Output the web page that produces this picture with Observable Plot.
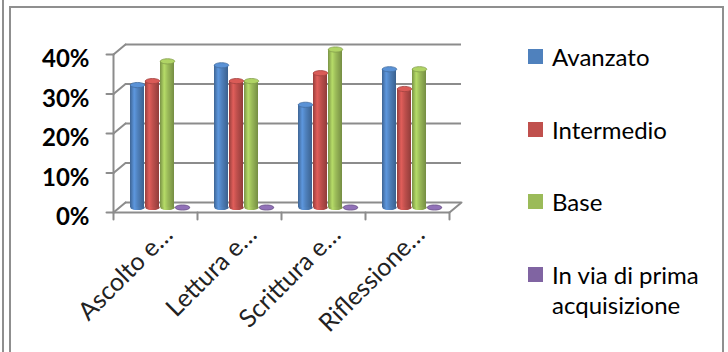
<!DOCTYPE html>
<html><head><meta charset="utf-8">
<script src="https://cdn.jsdelivr.net/npm/d3@7"></script>
<script src="https://cdn.jsdelivr.net/npm/@observablehq/plot@0.6"></script>
<style>
body{margin:0;background:#fff;}
#wrap{position:relative;width:728px;height:352px;overflow:hidden;background:#fff;font-family:Lato,sans-serif;color:#000;}
#chart{position:absolute;left:0;top:0;}
.bl{position:absolute;background:#8f8f8f;}
.sq{position:absolute;width:15px;height:15px;}
.lt{position:absolute;font-size:24px;line-height:30px;width:170px;white-space:normal;}
</style></head>
<body>
<div id="wrap">
  <svg width="0" height="0" style="position:absolute;left:0;top:0"><defs id="defs"></defs></svg>
  <div id="chart"></div>
  <div class="bl" style="left:2px;top:0;width:2px;height:352px"></div>
  <div class="bl" style="left:9px;top:6px;width:2px;height:346px"></div>
  <div class="bl" style="left:9px;top:6px;width:715px;height:2px"></div>
  <div class="bl" style="left:722px;top:6px;width:2px;height:346px"></div>
  <div id="legend"></div>
</div>
<script>
// ---- data ----
const categories = ["Ascolto e…", "Lettura e…", "Scrittura e…", "Riflessione…"];
const series = ["Avanzato", "Intermedio", "Base", "In via di prima acquisizione"];
const avanzato = [0.31, 0.36, 0.26, 0.35];
const intermedio = [0.32, 0.32, 0.34, 0.30];
const base = [0.37, 0.32, 0.40, 0.35];
const primaAcquisizione = [0, 0, 0, 0];
const yTicks = [0, 0.1, 0.2, 0.3, 0.4];
const colors = ["#4F81BD", "#C0504D", "#9BBB59", "#8064A2"];

const seriesValues = [avanzato, intermedio, base, primaAcquisizione];
const rows = [];
categories.forEach((c, i) => seriesValues.forEach((arr, j) => rows.push({category: c, series: series[j], idx: j, value: arr[i]})));

// ---- gradients for cylinder shading ----
const defs = document.getElementById("defs");
colors.forEach((col, j) => {
  const c = d3.color(col);
  const stops = [[0, c.darker(0.7)], [0.3, c.brighter(0.45)], [0.55, c], [1, c.darker(0.8)]];
  let g = `<linearGradient id="g${j}" x1="0" x2="1" y1="0" y2="0">`;
  stops.forEach(([o, s]) => g += `<stop offset="${o}" stop-color="${s.formatHex()}"/>`);
  g += `</linearGradient>`;
  defs.insertAdjacentHTML("beforeend", g);
});
(function(){ const svg = defs.ownerSVGElement; const html = svg.innerHTML; svg.innerHTML = html; })();

// ---- layout constants (style) ----
const W = 728, H = 352;
const backLeft = 125, backRight = 461, backTop = 44, backBottom = 202;
const OX = -12, OY = 10;       // front plane offset
const BX = -6, BY = 5;         // bar depth offset
const grid = "#8c8c8c";
const diagLen = Math.hypot(OX, OY);
const diagRot = 180 + Math.atan2(-OX, OY) * 180 / Math.PI;

const lineShape = {draw(ctx, l) { ctx.moveTo(0, 0); ctx.lineTo(0, -l); }};
function ellipse(k) {
  return {draw(ctx, size) {
    const r = Math.sqrt(size / Math.PI), ry = r * k, c = 0.5523;
    ctx.moveTo(-r, 0);
    ctx.bezierCurveTo(-r, -ry * c, -r * c, -ry, 0, -ry);
    ctx.bezierCurveTo(r * c, -ry, r, -ry * c, r, 0);
    ctx.bezierCurveTo(r, ry * c, r * c, ry, 0, ry);
    ctx.bezierCurveTo(-r * c, ry, -r, ry * c, -r, 0);
    ctx.closePath();
  }};
}
const first = categories[0], last = categories[categories.length - 1];

const marks = [
  // back wall gridlines
  Plot.ruleY(yTicks, {y: d => d, stroke: grid, strokeWidth: 2}),
  // side wall diagonals
  Plot.vector(yTicks, {y: d => d, fx: () => first, frameAnchor: "left", anchor: "start", length: diagLen, rotate: diagRot, shape: lineShape, stroke: grid, strokeWidth: 2}),
  // floor front line
  Plot.ruleY([0], {y: d => d, dx: OX, dy: OY, stroke: grid, strokeWidth: 2}),
  // floor right diagonal
  Plot.vector([last], {fx: d => d, frameAnchor: "bottom-right", anchor: "start", length: diagLen, rotate: diagRot, shape: lineShape, stroke: grid, strokeWidth: 2}),
  // front vertical axis line
  Plot.vector([first], {fx: d => d, frameAnchor: "bottom-left", anchor: "start", length: backBottom - backTop, rotate: 0, dx: OX, dy: OY, shape: lineShape, stroke: grid, strokeWidth: 2}),
  // x ticks
  Plot.vector(categories, {fx: d => d, frameAnchor: "bottom-left", anchor: "start", length: 7, rotate: 180, dx: OX, dy: OY, shape: lineShape, stroke: grid, strokeWidth: 2}),
  Plot.vector([last], {fx: d => d, frameAnchor: "bottom-right", anchor: "start", length: 7, rotate: 180, dx: OX, dy: OY, shape: lineShape, stroke: grid, strokeWidth: 2}),
  // y ticks
  Plot.vector(yTicks, {y: d => d, fx: () => first, frameAnchor: "left", anchor: "start", length: 7, rotate: 270, dx: OX, dy: OY, shape: lineShape, stroke: grid, strokeWidth: 2}),
  // y labels
  Plot.axisY({ticks: yTicks, tickFormat: d3.format(".0%"), anchor: "left", tickSize: 0, tickPadding: 24, dx: OX, dy: OY + 5, fill: "#000", fontSize: 24, fontWeight: "bold", label: null}),
  // x labels
  Plot.text(categories, {fx: d => d, text: d => d, frameAnchor: "bottom", rotate: -45, textAnchor: "end", lineAnchor: "middle", dx: 1, dy: 28, fontSize: 25, fill: "#222"})
];
series.forEach((s, j) => {
  const data = rows.filter(r => r.idx === j);
  const col = d3.color(colors[j]);
  marks.push(
    Plot.dot(data, {fx: "category", x: "series", y: () => 0, r: 7.2, symbol: ellipse(0.36), fill: `url(#g${j})`, dx: BX, dy: BY}),
    Plot.barY(data, {fx: "category", x: "series", y: "value", fill: `url(#g${j})`, dx: BX, dy: BY}),
    Plot.dot(data, {fx: "category", x: "series", y: "value", r: 7.2, symbol: ellipse(0.36), fill: col.brighter(0.35).formatHex(), stroke: col.darker(0.5).formatHex(), strokeWidth: 0.8, dx: BX, dy: BY})
  );
});

const chart = Plot.plot({
  width: W, height: H,
  marginLeft: backLeft, marginRight: W - backRight, marginTop: backTop, marginBottom: H - backBottom,
  style: {fontFamily: "Lato, sans-serif", overflow: "visible", background: "transparent"},
  fx: {domain: categories, padding: 0, axis: null, label: null},
  x: {domain: series, paddingInner: 0.05, paddingOuter: 0.75, align: 0.45, axis: null},
  y: {domain: [0, 0.4], axis: null},
  marks
});
document.getElementById("chart").appendChild(chart);

// ---- legend (HTML) ----
const legend = document.getElementById("legend");
series.forEach((s, j) => {
  const cy = 57 + 72.7 * j;
  legend.insertAdjacentHTML("beforeend",
    `<div class="sq" style="left:528px;top:${cy - 8}px;background:${colors[j]}"></div>` +
    `<div class="lt" style="left:552px;top:${cy - 15}px">${s}</div>`);
});
</script>
</body></html>
